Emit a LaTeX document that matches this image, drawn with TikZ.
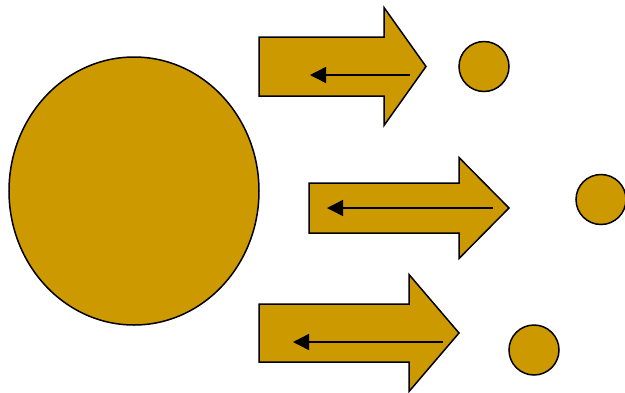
\documentclass[tikz,border=0pt]{standalone}
\usepackage{tikz}
\usetikzlibrary{arrows.meta,shapes.geometric}
\definecolor{gold}{HTML}{CC9900}

\begin{document}
\begin{tikzpicture}[x=1pt, y=-1pt, line width=1.5pt,
  blob/.style={draw=black, fill=gold, inner sep=0pt},
  back/.style={draw=black, line width=1.4pt, -{Triangle[length=16pt, width=16pt]}}]
\useasboundingbox (0,0) rectangle (625,392);
\node[blob, ellipse, minimum width=250, minimum height=268] (big) at (134,191) {};

\foreach \n/\xl/\xb/\xt/\yc/\hs/\hh/\xs/\xe/\ya/\cx/\cy in {
1/259/384/426/66.5/29.5/59/410/310/75/484/66.5,
2/309/459/509/208/25/50.5/493/327/208/601/199.5,
3/259/409/459/333/29/58.5/443/293/342/534/350} {
  \draw[fill=gold, line join=miter] (\xl,\yc-\hs) -- (\xb,\yc-\hs) -- (\xb,\yc-\hh)
    -- (\xt,\yc) -- (\xb,\yc+\hh) -- (\xb,\yc+\hs) -- (\xl,\yc+\hs) -- cycle;
  \coordinate (s\n) at (\xs,\ya);
  \coordinate (e\n) at (\xe,\ya);
  \draw[back] (s\n) -- (e\n);
  \node[blob, circle, minimum size=50] (dot\n) at (\cx,\cy) {};
}
\end{tikzpicture}
\end{document}
